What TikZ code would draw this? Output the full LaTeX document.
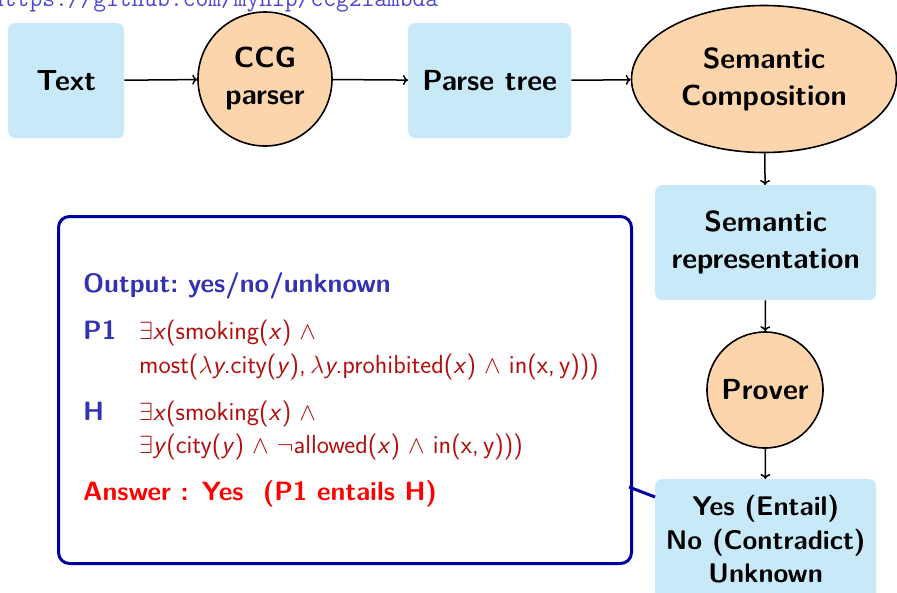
\documentclass[tikz,border=0pt]{standalone}
\usetikzlibrary{shapes.geometric,arrows.meta}
\definecolor{boxblue}{HTML}{C8E9F8}
\definecolor{peach}{HTML}{FCD5AC}
\definecolor{navy}{HTML}{0000A0}
\definecolor{struct}{HTML}{3333B2}
\definecolor{formred}{HTML}{B01010}
\definecolor{linkblue}{HTML}{4848D0}
\begin{document}
\begin{tikzpicture}[x=1pt,y=-1pt,
  every node/.style={font=\sffamily\bfseries\fontsize{29}{37}\selectfont, align=center, inner sep=0pt},
  stage/.style={fill=boxblue, rounded corners=7pt, anchor=north west},
  proc/.style={circle, fill=peach, draw=black, line width=1.6pt},
  flow/.style={-{To[length=5pt,width=10pt]}, line width=1.5pt},
  label/.style={anchor=base west, font=\sffamily\bfseries\fontsize{26.5}{32}\selectfont, text=struct},
  formula/.style={anchor=base west, font=\sffamily\fontsize{26}{30}\selectfont, text=formred}]
\clip (0,0) rectangle (897,592);

% project link at the top edge
\node[anchor=base west, font=\ttfamily\fontsize{24.8}{28}\selectfont, text=linkblue] (url) at (-9,6.5) {https://github.com/mynlp/ccg2lambda};

% pipeline
\node[stage, minimum width=116pt, minimum height=115pt] (text) at (8,23) {Text};
\node[proc, minimum size=134pt] (ccg) at (265,79) {CCG\\parser};
\node[stage, minimum width=163pt, minimum height=115pt] (parse) at (408,23) {Parse tree};
\node[ellipse, fill=peach, draw=black, line width=1.6pt, minimum width=265pt, minimum height=147pt] (comp) at (764,79) {Semantic\\Composition};
\node[stage, minimum width=221pt, minimum height=115pt] (rep) at (655,185) {Semantic\\representation};
\node[proc, minimum size=116pt] (prover) at (765,390) {Prover};
\node[stage, minimum width=221pt, minimum height=120pt, font=\sffamily\bfseries\fontsize{27}{33.5}\selectfont] (out) at (655,479) {Yes (Entail)\\No (Contradict)\\Unknown};

\draw[flow] (text) -- (ccg);
\draw[flow] (ccg) -- (parse);
\draw[flow] (parse) -- (comp);
\draw[flow] (comp) -- (rep);
\draw[flow] (rep) -- (prover);
\draw[flow] (prover) -- (out);

% example panel
\node[draw=navy, line width=3pt, rounded corners=11pt, fill=white, minimum width=573pt, minimum height=347pt, anchor=north west] (panel) at (57,215) {};
\coordinate (tail) at (629,487);
\draw[navy, line width=3pt] (tail) -- (655,497);

\node[label] (outl) at (83,292) {Output:\ yes/no/unknown};
\node[label] (p1) at (83,339) {P1};
\node[formula] (p1a) at (139,339) {$\exists$\textsl{x}(smoking(\textsl{x}) $\wedge$};
\node[formula] (p1b) at (139,373) {most($\lambda$\textsl{y}.city(\textsl{y}),\,$\lambda$\textsl{y}.prohibited(\textsl{x}) $\wedge$ in(x,\,y)))};
\node[label] (h) at (83,420) {H};
\node[formula] (ha) at (139,420) {$\exists$\textsl{x}(smoking(\textsl{x}) $\wedge$};
\node[formula] (hb) at (139,453) {$\exists$\textsl{y}(city(\textsl{y}) $\wedge$ $\neg$allowed(\textsl{x}) $\wedge$ in(x,\,y)))};
\node[label, text=red] (ans) at (83,500) {Answer : Yes \ (P1 entails H)};
\end{tikzpicture}
\end{document}
